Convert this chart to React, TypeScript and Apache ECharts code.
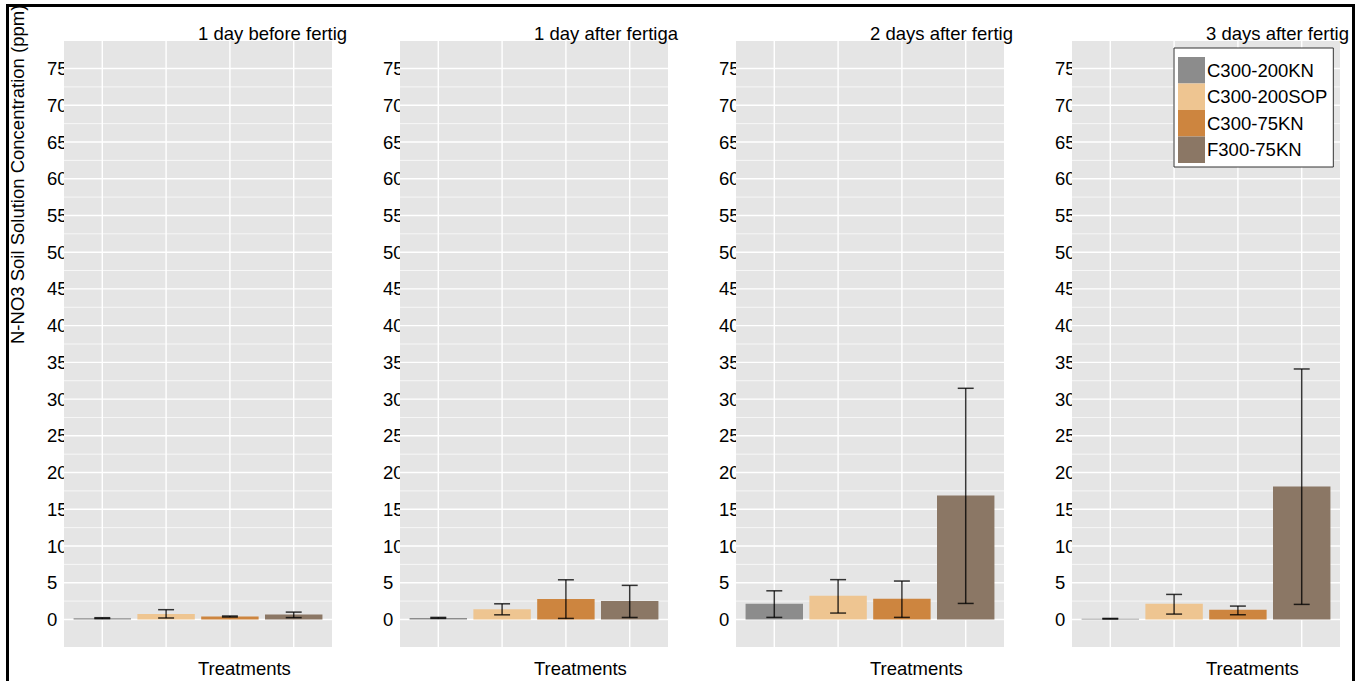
import React, { useEffect, useRef } from 'react';
import * as echarts from 'echarts';

const treatments = ['C300-200KN', 'C300-200SOP', 'C300-75KN', 'F300-75KN'];
const treatmentColors = ['#8C8C8C', '#EEC591', '#CD853F', '#8B7765'];
const categoryPositions = [1, 2, 3, 4];

const panelTitles = [
  '1 day before fertigation',
  '1 day after fertigation',
  '2 days after fertigation',
  '3 days after fertigation',
];

// mean, lower and upper error bound per treatment, one set per panel
const meanBefore1 = [0.18, 0.75, 0.4, 0.68];
const lowBefore1 = [0.12, 0.2, 0.33, 0.25];
const highBefore1 = [0.24, 1.33, 0.47, 1.0];

const meanAfter1 = [0.2, 1.4, 2.77, 2.5];
const lowAfter1 = [0.15, 0.63, 0.14, 0.27];
const highAfter1 = [0.28, 2.13, 5.4, 4.64];

const meanAfter2 = [2.14, 3.23, 2.82, 16.88];
const lowAfter2 = [0.28, 0.87, 0.28, 2.18];
const highAfter2 = [3.9, 5.42, 5.23, 31.47];

const meanAfter3 = [0.1, 2.14, 1.32, 18.1];
const lowAfter3 = [0.06, 0.73, 0.64, 2.05];
const highAfter3 = [0.14, 3.41, 1.82, 34.1];

const yTickLabels = [0, 5, 10, 15, 20, 25, 30, 35, 40, 45, 50, 55, 60, 65, 70, 75];
const yMinorLines = [2.5, 7.5, 12.5, 17.5, 22.5, 27.5, 32.5, 37.5, 42.5, 47.5, 52.5, 57.5, 62.5, 67.5, 72.5];

const yTitle = 'N-NO3 Soil Solution Concentration (ppm)';
const xTitle = 'Treatments';

const panels = [
  { title: panelTitles[0], mean: meanBefore1, low: lowBefore1, high: highBefore1 },
  { title: panelTitles[1], mean: meanAfter1, low: lowAfter1, high: highAfter1 },
  { title: panelTitles[2], mean: meanAfter2, low: lowAfter2, high: highAfter2 },
  { title: panelTitles[3], mean: meanAfter3, low: lowAfter3, high: highAfter3 },
];

const FONT = 'Liberation Sans, Arial, sans-serif';
const FS = 18.5;

export default function App() {
  const ref = useRef<HTMLDivElement>(null);

  useEffect(() => {
    const chart = echarts.init(ref.current as HTMLDivElement, null, { renderer: 'svg' });
    const grids: any[] = [];
    const xAxes: any[] = [];
    const yAxes: any[] = [];
    const titles: any[] = [];
    const series: any[] = [];
    const gridLeft0 = 55;
    const gridStep = 336;
    const gridW = 268;
    const gridTop = 34;
    const gridH = 606;
    const titleClipWidths = [157, 148, 148, 148];

    panels.forEach((p, i) => {
      const left = gridLeft0 + i * gridStep;
      grids.push({ left, top: gridTop, width: gridW, height: gridH, containLabel: false, outerBoundsMode: 'none' });
      xAxes.push({
        type: 'value',
        gridIndex: i,
        min: 0.4,
        max: 4.6,
        axisLine: { show: false },
        axisTick: { show: false },
        axisLabel: { show: false },
        splitLine: { show: false },
        name: xTitle,
        nameLocation: 'middle',
        nameGap: 21,
        nameTextStyle: { fontSize: FS, color: '#000', align: 'left', verticalAlign: 'middle', fontFamily: FONT },
      });
      const yAxis: any = {
        type: 'value',
        gridIndex: i,
        min: -3.75,
        max: 78.75,
        z: 0,
        axisLine: { show: false },
        axisTick: { show: false },
        splitLine: { show: false },
        axisLabel: {
          customValues: yTickLabels,
          formatter: (v: number) => String(v),
          align: 'left',
          margin: 17,
          fontSize: FS,
          color: '#000',
          fontFamily: FONT,
        },
      };
      if (i === 0) {
        yAxis.name = yTitle;
        yAxis.nameLocation = 'middle';
        yAxis.nameRotate = 90;
        yAxis.nameGap = 46.5;
        yAxis.nameTextStyle = { fontSize: FS, color: '#000', align: 'left', verticalAlign: 'middle', fontFamily: FONT };
      }
      yAxes.push(yAxis);
      titles.push({
        text: p.title,
        left: left + gridW / 2,
        top: 17,
        padding: 0,
        textStyle: {
          fontSize: FS,
          fontWeight: 'normal',
          color: '#000',
          fontFamily: FONT,
          width: titleClipWidths[i],
          overflow: 'truncate',
          ellipsis: '',
        },
      });

      // panel background and grid lines
      series.push({
        type: 'custom',
        name: 'panel-bg-' + i,
        xAxisIndex: i,
        yAxisIndex: i,
        z: 1,
        silent: true,
        data: [[1, 0]],
        renderItem: (params: any, api: any) => {
          const cs = params.coordSys;
          const children: any[] = [
            { type: 'rect', shape: { x: cs.x, y: cs.y, width: cs.width, height: cs.height }, style: { fill: '#E5E5E5' } },
          ];
          yMinorLines.forEach((v) => {
            const y = api.coord([0.4, v])[1];
            children.push({ type: 'line', shape: { x1: cs.x, y1: y, x2: cs.x + cs.width, y2: y }, style: { stroke: '#FFFFFF', lineWidth: 0.7 } });
          });
          yTickLabels.forEach((v) => {
            const y = api.coord([0.4, v])[1];
            children.push({ type: 'line', shape: { x1: cs.x, y1: y, x2: cs.x + cs.width, y2: y }, style: { stroke: '#FFFFFF', lineWidth: 1.4 } });
          });
          categoryPositions.forEach((c) => {
            const x = api.coord([c, 0])[0];
            children.push({ type: 'line', shape: { x1: x, y1: cs.y, x2: x, y2: cs.y + cs.height }, style: { stroke: '#FFFFFF', lineWidth: 1.4 } });
          });
          return { type: 'group', children };
        },
      });

      treatments.forEach((t, j) => {
        const color = treatmentColors[j];
        series.push({
          type: 'custom',
          name: t,
          xAxisIndex: i,
          yAxisIndex: i,
          z: 3,
          itemStyle: { color },
          data: [[categoryPositions[j], p.mean[j], p.low[j], p.high[j]]],
          encode: { x: 0, y: 1 },
          renderItem: (params: any, api: any) => {
            const x = api.value(0);
            const m = api.value(1);
            const lo = api.value(2);
            const hi = api.value(3);
            const a = api.coord([x - 0.45, m]);
            const b = api.coord([x + 0.45, 0]);
            const top = api.coord([x, hi]);
            const bot = api.coord([x, lo]);
            const cl = api.coord([x - 0.125, hi])[0];
            const cr = api.coord([x + 0.125, hi])[0];
            const eb = { stroke: 'rgba(0,0,0,0.78)', lineWidth: 1.5 };
            return {
              type: 'group',
              children: [
                { type: 'rect', shape: { x: a[0], y: a[1], width: b[0] - a[0], height: b[1] - a[1] }, style: { fill: color } },
                { type: 'line', shape: { x1: top[0], y1: top[1], x2: bot[0], y2: bot[1] }, style: eb },
                { type: 'line', shape: { x1: cl, y1: top[1], x2: cr, y2: top[1] }, style: eb },
                { type: 'line', shape: { x1: cl, y1: bot[1], x2: cr, y2: bot[1] }, style: eb },
              ],
            };
          },
        });
      });
    });

    chart.setOption({
      animation: false,
      textStyle: { fontFamily: FONT },
      title: titles,
      grid: grids,
      xAxis: xAxes,
      yAxis: yAxes,
      legend: {
        data: treatments,
        orient: 'vertical',
        left: 1165,
        top: 41,
        icon: 'rect',
        itemWidth: 27,
        itemHeight: 26.5,
        itemGap: 0,
        padding: [9, 6, 4, 4],
        backgroundColor: '#FFFFFF',
        borderColor: '#333333',
        borderWidth: 1,
        z: 10,
        textStyle: { fontSize: FS, color: '#000', fontFamily: FONT, padding: [0, 0, 0, -3] },
      },
      series,
    });
    return () => chart.dispose();
  }, []);

  return (
    <div
      style={{
        position: 'fixed',
        left: 6,
        top: 4,
        width: 1343,
        height: 700,
        border: '3px solid #000',
        background: '#fff',
        overflow: 'hidden',
      }}
    >
      <div ref={ref} style={{ width: 1343, height: 700 }} />
    </div>
  );
}
